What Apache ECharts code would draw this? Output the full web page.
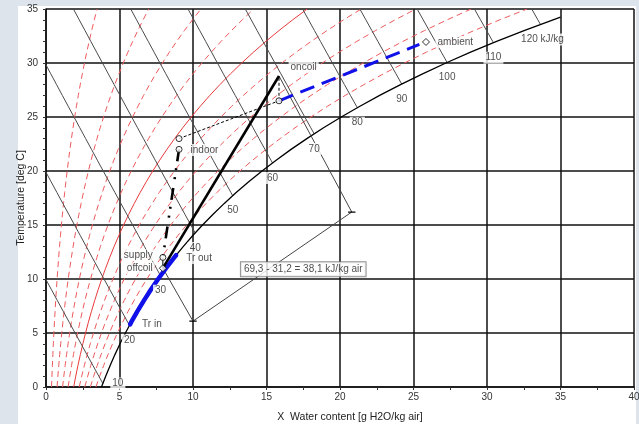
<!DOCTYPE html>
<html><head><meta charset="utf-8">
<script src="https://cdn.jsdelivr.net/npm/echarts@6/dist/echarts.min.js"></script>
<style>
html,body{margin:0;padding:0;background:#dde4ec;overflow:hidden}
#panel{position:absolute;left:18px;top:6px;width:618px;height:418px;background:#fff}
#c{position:absolute;left:0;top:0;width:639px;height:424px}
</style>
</head><body><div id="panel"></div><div id="c"></div>
<script>
// ---- chart data ----
const satTemps = [0,1,2,3,4,5,6,7,8,9,10,11,12,13,14,15,16,17,18,19,20,21,22,23,24,25,26,27,28,29,30,31,32,33,34,35];
const satPressure = [0.6112,0.6571,0.7060,0.7581,0.8135,0.8725,0.9353,1.0020,1.0729,1.1481,1.2280,1.3128,1.4026,1.4979,1.5987,1.7055,1.8185,1.9380,2.0643,2.1978,2.3389,2.4878,2.6448,2.8105,2.9852,3.1693,3.3633,3.5674,3.7823,4.0084,4.2462,4.4961,4.7586,5.0345,5.3242,5.6280];
const saturationEnd = [35.0, 34.25];
const rhLevels = [10,20,30,40,50,60,70,80,90];
const enthalpyLevels = [10,20,30,40,50,60,70,80,90,100,110,120];

const stateNames = ['indoor','return','supply','offcoil','mix','oncoil','ambient'];
const stateX = [9.05, 9.05, 7.95, 7.95, 15.85, 15.85, 25.85];
const stateT = [22.0, 23.0, 12.0, 11.0, 26.5, 28.8, 31.95];
const ambientDashEnd = [25.4, 31.72];

const refrigIn = [5.72, 5.8];
const refrigOut = [8.85, 12.2];
const hOnCoil = 69.3, hOffCoil = 31.2;
const dimLow = [10.0, 6.1];
const dimHigh = [20.8, 16.2];
const dimLabelAt = [17.5, 10.9];

const textLabels = ['oncoil','ambient','indoor','supply','offcoil','Tr out','Tr in'];
const textX = [16.5, 26.5, 9.7, 7.4, 7.4, 9.4, 6.4];
const textT = [29.63, 31.94, 21.94, 12.2, 11.0, 11.94, 5.85];
const textSide = ['right','right','right','left','left','right','right'];

// ---- psychrometric grid construction ----
const P = 101.325;
const xOf = (phi, ps) => 622 * phi * ps / (P - phi * ps);
const satX = satPressure.map(ps => xOf(1, ps));
function satXAt(T){ const i = Math.min(Math.floor(T), satTemps.length - 2); const f = T - i; return satX[i] + (satX[i+1] - satX[i]) * f; }
const hLineX = (h, T) => (h - 1.006 * T) / (2.501 + 0.00186 * T);
const S = n => stateNames.indexOf(n);
const pt = n => [stateX[S(n)], stateT[S(n)]];

const satCurve = satTemps.slice(0, 35).map((T, i) => [satX[i], T]).concat([saturationEnd]);
const rhCurves = rhLevels.map(r => satTemps.map((T, i) => [xOf(r / 100, satPressure[i]), T]));

const hLines = [], hLabels = [];
enthalpyLevels.forEach(h => {
  const T0 = Math.min(35, h / 1.006);
  let lo = 0, hi = T0;
  for (let k = 0; k < 50; k++) { const m = (lo + hi) / 2; if (hLineX(h, m) - satXAt(m) > 0) lo = m; else hi = m; }
  const Tc = (lo + hi) / 2;
  const pts = [[Math.max(0, hLineX(h, T0)), T0]];
  for (let T = Math.ceil(T0) - 1; T > Tc; T--) pts.push([hLineX(h, T), T]);
  const end = [hLineX(h, Tc), Tc];
  pts.push(end);
  hLines.push(pts);
  hLabels.push({ value: end, name: h === 120 ? '120 kJ/kg' : String(h),
    label: { offset: h === 10 ? [15, 0] : [h === 120 ? 2 : 0, 15] } });
});

const refrigLine = [refrigIn];
satTemps.forEach((T, i) => { if (T > refrigIn[1] && T < refrigOut[1]) refrigLine.push([satX[i], T]); });
refrigLine.push(refrigOut);

const fmt = v => v.toFixed(1).replace('.', ',');
const dimText = fmt(hOnCoil) + ' - ' + fmt(hOffCoil) + ' = ' + fmt(hOnCoil - hOffCoil) + ' kJ/kg air';

// ---- series ----
const FONT = 'Liberation Sans, Arial, sans-serif';
function line(data, style, z) {
  return { type: 'line', data, showSymbol: false, symbol: 'none', silent: true, z: z || 2,
    lineStyle: style, animation: false };
}
const series = [];
rhCurves.forEach((d, i) => {
  const solid = rhLevels[i] === 50;
  series.push(line(d, { color: solid ? '#e8393c' : '#ec5a5c', width: 1, type: solid ? 'solid' : [6, 4] }, 2));
});
hLines.forEach(d => series.push(line(d, { color: '#4a4a4a', width: 1 }, 2)));
series.push(line(satCurve, { color: '#000', width: 1.3 }, 3));
// dimension lines
series.push(line([pt('offcoil'), dimLow], { color: '#444', width: 1 }, 3));
series.push(line([pt('oncoil'), dimHigh], { color: '#444', width: 1 }, 3));
series.push(line([dimLow, dimHigh], { color: '#444', width: 1 }, 3));
series.push(line([[dimLow[0] - 0.25, dimLow[1]], [dimLow[0] + 0.25, dimLow[1]]], { color: '#000', width: 1.2 }, 3));
series.push(line([[dimHigh[0] - 0.25, dimHigh[1]], [dimHigh[0] + 0.25, dimHigh[1]]], { color: '#000', width: 1.2 }, 3));
// process
series.push(line(refrigLine, { color: '#1010e8', width: 4.5, cap: 'round' }, 4));
series.push(line([pt('offcoil'), pt('oncoil')], { color: '#000', width: 2.6 }, 4));
series.push(line([pt('return'), pt('mix')], { color: '#000', width: 1, type: [3, 2] }, 4));
series.push(line([pt('mix'), pt('oncoil')], { color: '#000', width: 1, type: [3, 2] }, 4));
series.push(line([pt('mix'), ambientDashEnd], { color: '#1010e8', width: 3, type: [15, 8] }, 4));
series.push(line([pt('indoor'), pt('supply')], { color: '#000', width: 2.6, type: [12, 7, 2, 7, 2, 9] }, 4));
series.push(line([pt('offcoil'), pt('supply')], { color: '#000', width: 1 }, 4));
// markers
series.push({ type: 'scatter', silent: true, z: 6, animation: false,
  data: ['indoor','return','supply','mix'].map(pt), symbol: 'circle', symbolSize: 6,
  itemStyle: { color: '#fff', borderColor: '#000', borderWidth: 1 } });
series.push({ type: 'scatter', silent: true, z: 6, animation: false,
  data: ['offcoil','ambient'].map(pt), symbol: 'diamond', symbolSize: 7,
  itemStyle: { color: '#fff', borderColor: '#000', borderWidth: 1 } });
// enthalpy labels
series.push({ type: 'scatter', silent: true, z: 10, animation: false, symbolSize: 0, data: hLabels,
  label: { show: true, position: 'inside', formatter: p => p.name, color: '#222', fontSize: 10, fontFamily: FONT,
    backgroundColor: '#fff', padding: [1, 2] } });
// text labels
series.push({ type: 'scatter', silent: true, z: 10, animation: false, symbolSize: 0,
  data: textLabels.map((t, i) => ({ value: [textX[i], textT[i]], name: t,
    label: { position: textSide[i], distance: 0 } })),
  label: { show: true, formatter: p => p.name, color: '#222', fontSize: 10, fontFamily: FONT,
    backgroundColor: '#fff', padding: [1, 2] } });
series.push({ type: 'scatter', silent: true, z: 10, animation: false, symbolSize: 0,
  data: [{ value: dimLabelAt, name: dimText }],
  label: { show: true, position: 'inside', formatter: p => p.name, color: '#222', fontSize: 10, fontFamily: FONT,
    backgroundColor: '#fff', borderColor: '#777', borderWidth: 1, padding: [2, 3] } });

const axisCommon = {
  axisLine: { show: true, onZero: false, lineStyle: { color: '#111', width: 1.5 } },
  splitLine: { show: true, lineStyle: { color: '#111', width: 1.5 } },
  axisTick: { show: true, length: 3, lineStyle: { color: '#333' } },
  axisLabel: { color: '#333', fontSize: 10, fontFamily: FONT },
  nameLocation: 'middle',
  nameMoveOverlap: false
};
const chart = echarts.init(document.getElementById('c'), null, { renderer: 'canvas' });
chart.setOption({
  backgroundColor: 'transparent',
  animation: false,
  grid: { left: 46, right: 5, top: 9, bottom: 37, containLabel: false, outerBoundsMode: 'none' },
  xAxis: Object.assign({}, axisCommon, { type: 'value', min: 0, max: 40, interval: 5,
    name: 'X  Water content [g H2O/kg air]', nameGap: 25,
    nameTextStyle: { color: '#222', fontSize: 10.5, fontFamily: FONT, padding: [0, 0, 0, 20] },
    minorTick: { show: true, splitNumber: 2, length: 3, lineStyle: { color: '#333' } },
    axisLabel: Object.assign({}, axisCommon.axisLabel, { margin: 5 }) }),
  yAxis: Object.assign({}, axisCommon, { type: 'value', min: 0, max: 35, interval: 5,
    name: 'Temperature [deg C]', nameGap: 19,
    nameTextStyle: { color: '#222', fontSize: 10.5, fontFamily: FONT },
    minorTick: { show: true, splitNumber: 5, length: 3, lineStyle: { color: '#333' } },
    axisLabel: Object.assign({}, axisCommon.axisLabel, { margin: 8 }) }),
  series
});
</script>
</body></html>
